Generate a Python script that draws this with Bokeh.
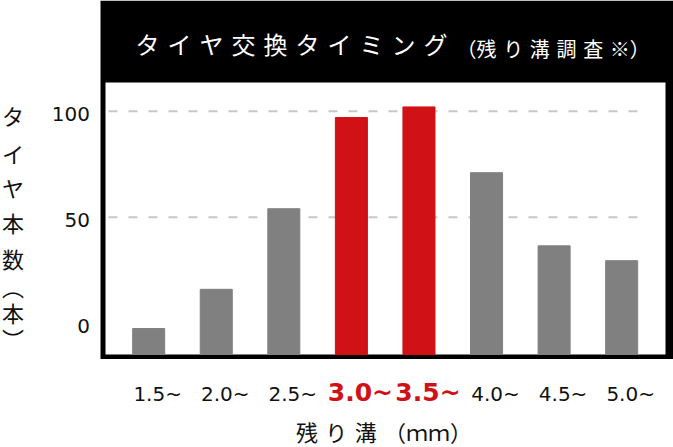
from bokeh.plotting import figure
from bokeh.models import Range1d, ColumnDataSource, LabelSet, Label, BoxAnnotation
from bokeh.core.properties import value
from bokeh.embed import file_html
from bokeh.resources import INLINE

# --- data ---
depths = ["1.5~", "2.0~", "2.5~", "3.0~", "3.5~", "4.0~", "4.5~", "5.0~"]
tires = [-2.5, 16, 54, 97, 102, 71, 36.5, 29.5]
highlight = [False, False, False, True, True, False, False, False]
y_ticks = [0, 50, 100]
y_tick_labels = ["0", "50", "100"]
grid_ticks = [50, 100]

title_main = "タイヤ交換タイミング"
title_sub = "残り溝調査※"
y_title = "タイヤ本数︵本︶"
x_title = "残り溝"

GRAY = "#808080"
RED = "#d01116"
INK = "#111111"
JP = "Noto Sans CJK JP"
SP = "\u2004"

# --- geometry: the frame covers the whole canvas, positions in pixels ---
W, H = 673, 447
X0, X1 = -2.193, 7.767
Y0, Y1 = -58.6, 152.2


def dx(px):
    return X0 + px * (X1 - X0) / W


def dy(py):
    return Y1 - py * (Y1 - Y0) / H


p = figure(width=W, height=H, x_range=Range1d(X0, X1), y_range=Range1d(Y0, Y1),
           x_axis_location=None, y_axis_location=None, title_location=None,
           toolbar_location=None, output_backend="svg", min_border=0)
p.outline_line_color = None
p.background_fill_color = "white"
p.border_fill_color = "white"
p.grid.visible = False

# black box (title bar + frame border) and white plot area
p.add_layout(BoxAnnotation(left=dx(100), right=X1, top=Y1, bottom=dy(358.5),
                           fill_color="black", fill_alpha=1, line_alpha=0,
                           level="underlay"))
p.add_layout(BoxAnnotation(left=dx(105), right=dx(665), top=dy(82), bottom=dy(354),
                           fill_color="white", fill_alpha=1, line_alpha=0,
                           level="underlay"))

# dashed grid lines (they stop short of the right edge)
p.segment(x0=[dx(108)] * len(grid_ticks), x1=[dx(638)] * len(grid_ticks),
          y0=grid_ticks, y1=grid_ticks,
          line_color="#c8c8c8", line_width=2, line_dash="9 11")

idx = list(range(len(depths)))
src = ColumnDataSource(dict(
    x=idx,
    top=tires,
    color=[RED if h else GRAY for h in highlight],
))
p.vbar(x="x", top="top", bottom=dy(354), width=0.474, color="color", source=src)

# y tick labels
ysrc = ColumnDataSource(dict(x=[dx(89.5)] * len(y_ticks), y=y_ticks, label=y_tick_labels))
p.add_layout(LabelSet(x="x", y="y", text="label", source=ysrc, y_offset=-3,
                      text_align="right", text_baseline="middle",
                      text_color=INK, text_font=value("DejaVu Sans"),
                      text_font_size="20px"))

# title
p.add_layout(Label(x=dx(135), y=dy(43.3), text=SP.join(title_main),
                   text_align="left", text_baseline="middle",
                   text_color="white", text_font=JP, text_font_size="24px"))
p.add_layout(Label(x=dx(456), y=dy(47.5), text="（" + SP.join(title_sub) + "）",
                   text_align="left", text_baseline="middle",
                   text_color="white", text_font=JP, text_font_size="20px"))

# x tick labels
xsrc = ColumnDataSource(dict(
    x=idx,
    y=[dy(400.5)] * len(idx),
    label=depths,
    tcolor=[RED if h else INK for h in highlight],
    tsize=["25px" if h else "20px" for h in highlight],
    tstyle=["bold" if h else "normal" for h in highlight],
))
p.add_layout(LabelSet(x="x", y="y", text="label", source=xsrc, x_offset=9,
                      text_align="center", text_baseline="alphabetic",
                      text_color="tcolor", text_font_size="tsize",
                      text_font_style="tstyle", text_font=value("DejaVu Sans")))

# x axis title
p.add_layout(Label(x=dx(383.5), y=dy(430), text=SP.join(x_title) + SP + "（ｍｍ）",
                   text_align="center", text_baseline="middle",
                   text_color=INK, text_font=JP, text_font_size="22px"))

# y axis title, one character per line (vertical-form brackets)
y_pos = [114, 152, 186, 221, 257, 285, 311, 337]
for ch, py in zip(y_title, y_pos):
    p.add_layout(Label(x=dx(12.5), y=dy(py), text=ch,
                       text_align="center", text_baseline="middle",
                       text_color=INK, text_font=JP, text_font_size="22px"))

open("out.html", "w").write(file_html(p, INLINE))
